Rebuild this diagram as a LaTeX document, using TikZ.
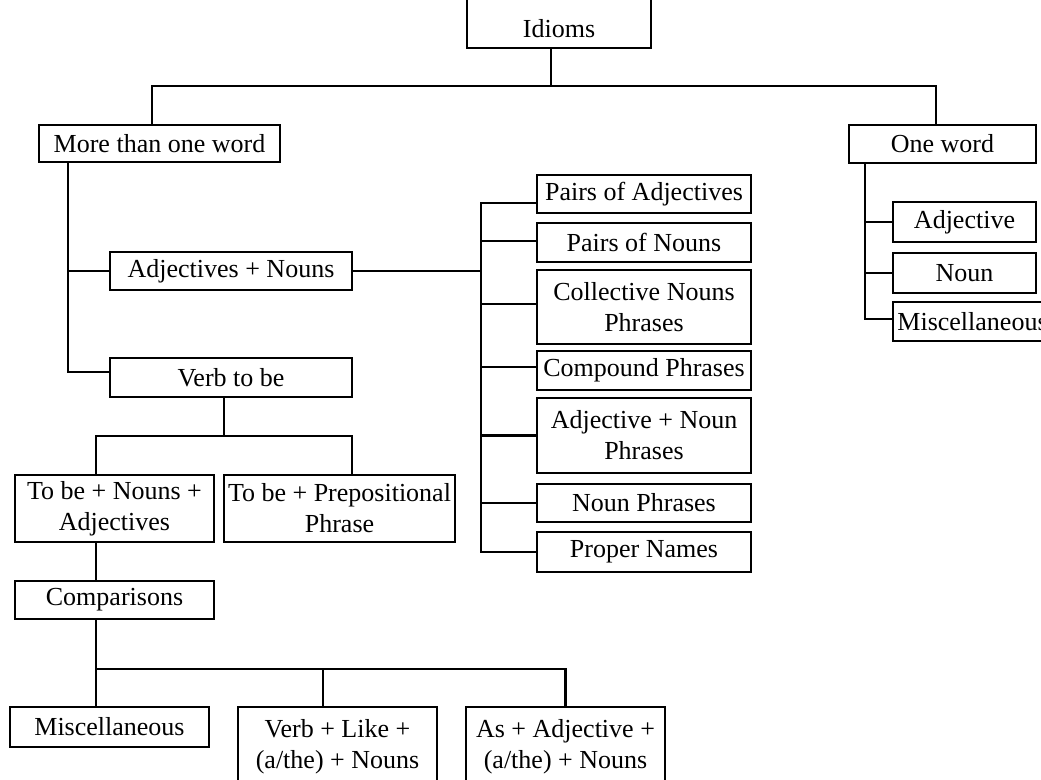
\documentclass[tikz,border=0pt]{standalone}
\usepackage{fontspec}
\setmainfont{Liberation Serif}
\usetikzlibrary{calc}
\begin{document}
\begin{tikzpicture}[x=1pt,y=-1pt,
  box/.style={draw, line width=1.4pt, inner sep=0pt, align=center,
    font=\fontsize{26}{31}\selectfont},
  thickln/.style={line width=2.4pt},
  thinln/.style={line width=1.3pt}]
\useasboundingbox[fill=white] (0,0) rectangle (1041,779);
\begin{scope}
\clip (0,0) rectangle (1041,779);
% top
\node[box, anchor=base, text height=47pt, text depth=11pt, minimum width=184pt] (idioms) at (559,37) {Idioms};
\node[box, minimum width=241pt, minimum height=37pt] (mto) at (159.5,143.5) {More than one word};
\node[box, minimum width=187pt, minimum height=38pt] (oneword) at (942.5,144) {One word};
% left column
\node[box, minimum width=242pt, minimum height=38pt] (adjn) at (231,271) {Adjectives + Nouns};
\node[box, minimum width=242pt, minimum height=39pt] (verb) at (231,377.5) {Verb to be};
\node[box, minimum width=199pt, minimum height=67pt] (tbn) at (114.5,508.5) {To be + Nouns +\\Adjectives};
\node[box, minimum width=231pt, minimum height=67pt] (tbp) at (339.5,508.5) {\makebox[0pt]{To be + Prepositional}\\Phrase};
\node[box, minimum width=199pt, minimum height=38pt] (comp) at (114.5,600) {Comparisons};
\node[box, minimum width=199pt, minimum height=40pt] (misc2) at (109.5,727) {Miscellaneous};
\node[box, minimum width=199pt, minimum height=79pt] (vlike) at (337.5,746.5) {Verb + Like +\\(a/the) + Nouns};
\node[box, minimum width=199pt, minimum height=79pt] (asadj) at (565.5,746.5) {As + Adjective +\\(a/the) + Nouns};
% middle column
\node[box, minimum width=214pt, minimum height=38pt] (pa) at (644,194) {Pairs of Adjectives};
\node[box, minimum width=214pt, minimum height=39pt] (pn) at (644,242.5) {Pairs of Nouns};
\node[box, minimum width=214pt, minimum height=74pt] (cn) at (644,307) {Collective Nouns\\Phrases};
\node[box, minimum width=214pt, minimum height=39pt] (cp) at (644,370.5) {\makebox[0pt]{Compound Phrases}};
\node[box, minimum width=214pt, minimum height=75pt] (anp) at (644,435.5) {Adjective + Noun\\Phrases};
\node[box, minimum width=214pt, minimum height=38pt] (np) at (644,503) {Noun Phrases};
\node[box, minimum width=214pt, minimum height=40pt] (pr) at (644,552) {Proper Names};
% right column
\node[box, minimum width=143pt, minimum height=40pt] (adj) at (964.5,222) {Adjective};
\node[box, minimum width=143pt, minimum height=40pt] (noun) at (964.5,273) {Noun};
\node[box, minimum width=157pt, minimum height=39pt] (misc1) at (971.5,321.5) {\makebox[0pt]{\hspace{2pt}Miscellaneous}};

\coordinate (j1) at (551,86);
\coordinate (sp) at (481,0);
\coordinate (j2) at (224,436);
\coordinate (j3) at (96,669);

% connectors
\draw[thinln] ([xshift=-8pt]idioms.south) -- (j1);
\draw[thickln] ([xshift=-7.5pt]mto.north) |- (j1) -| ([xshift=-6.5pt]oneword.north);
\draw[thickln] ([xshift=-91.5pt]mto.south) |- ([yshift=5.5pt]verb.west);
\draw[thickln] ([xshift=-91.5pt]mto.south |- adjn.west) -- (adjn.west);
\draw[thinln] (adjn.east) -- (adjn.east -| sp);
\draw[thinln] ([yshift=-9pt]pa.west) -| (pr.west -| sp) -- (pr.west);
\draw[thinln] ([yshift=1.5pt]pn.west) -- ([yshift=1.5pt]pn.west -| sp);
\draw[thinln] ([yshift=3pt]cn.west) -- ([yshift=3pt]cn.west -| sp);
\draw[thinln] ([yshift=3.5pt]cp.west) -- ([yshift=3.5pt]cp.west -| sp);
\draw[thickln] (anp.west) -- (anp.west -| sp);
\draw[thickln] (np.west) -- (np.west -| sp);
\draw[thickln] ([xshift=-77.5pt]oneword.south) |- ([yshift=2.5pt]misc1.west);
\draw[thickln] (adj.west) -- ++(-28,0);
\draw[thickln] (noun.west) -- ++(-28,0);
\draw[thinln] ([xshift=-7pt]verb.south) -- (j2);
\draw[thickln] ([xshift=-18.5pt]tbn.north) |- (j2) -| ([xshift=12.5pt]tbp.north);
\draw[thickln] ([xshift=-18.5pt]tbn.south) -- ([xshift=-18.5pt]comp.north);
\draw[thickln] ([xshift=-18.5pt]comp.south) -- ([xshift=-13.5pt]misc2.north);
\draw[thickln] (j3) -| (asadj.north);
\draw[thinln] ([xshift=-14.5pt]vlike.north) -- ([xshift=-14.5pt]vlike.north |- j3);
\end{scope}
\end{tikzpicture}
\end{document}
